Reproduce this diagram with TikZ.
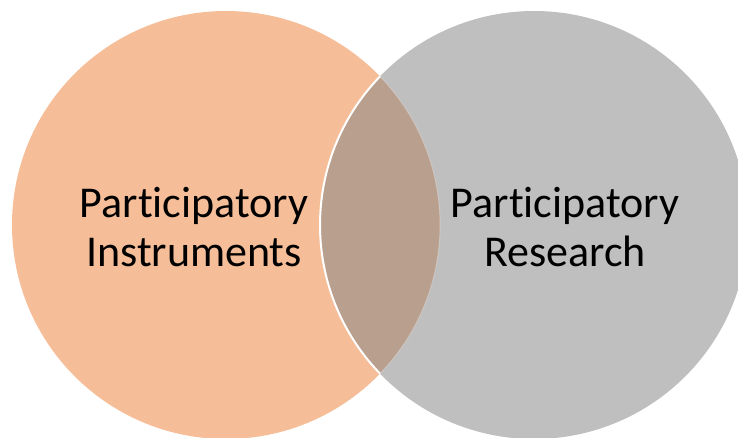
\documentclass[tikz,border=0pt]{standalone}
\usepackage{fontspec}
\setmainfont[Ligatures=NoCommon]{Carlito}
\definecolor{instrorange}{HTML}{F6BE98}
\definecolor{resgray}{HTML}{BFBFBF}
\definecolor{overlap}{HTML}{B99F8E}
\begin{document}
\begin{tikzpicture}[x=1pt,y=1pt,
    label text/.style={align=center,font=\fontsize{44}{49}\selectfont}]
   \useasboundingbox (0,0) rectangle (738,437);
   \coordinate (instrc) at (226,212);
   \coordinate (resc) at (534,212);
   % the two sets
   \fill[instrorange] (instrc) circle (214);
   \fill[resgray] (resc) circle (214);
   % overlap
   \begin{scope}
      \clip (instrc) circle (214);
      \fill[overlap] (resc) circle (214);
      \draw[white,line width=2pt] (resc) circle (214);
   \end{scope}
   \begin{scope}
      \clip (resc) circle (214);
      \draw[white,opacity=0.25,line width=1pt] (instrc) circle (214);
   \end{scope}
   \node[label text] (instr) at (194,210) {Participatory\\Instruments};
   \node[label text] (res) at (565,210) {Participatory\\Research};
\end{tikzpicture}
\end{document}
